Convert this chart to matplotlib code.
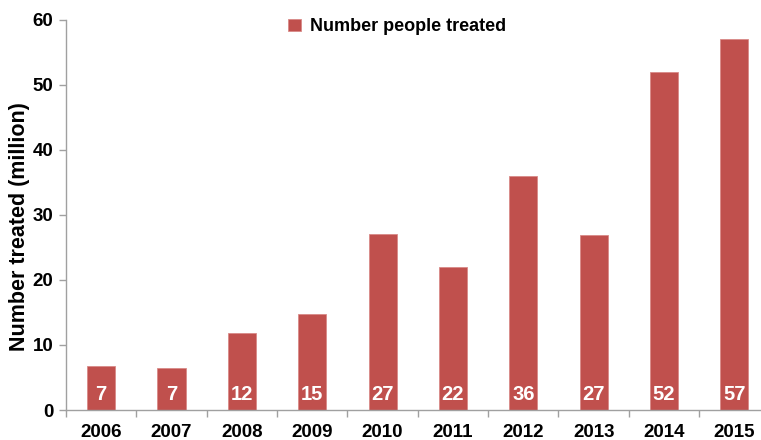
import numpy as np
import matplotlib
matplotlib.use("Agg")
from matplotlib import pyplot as plt

plt.rcParams.update({"font.family": "Liberation Sans", "font.weight": "bold"})

years = ["2006", "2007", "2008", "2009", "2010", "2011", "2012", "2013", "2014", "2015"]
treated = [6.7, 6.5, 11.8, 14.7, 27.0, 22.0, 35.9, 26.9, 52.0, 57.0]
bar_labels = ["7", "7", "12", "15", "27", "22", "36", "27", "52", "57"]

fig = plt.figure(figsize=(7.61, 4.40), dpi=100)
ax = fig.add_axes([66 / 761, 30 / 440, (769.5 - 66) / 761, (410 - 19.5) / 440])

x = np.arange(len(years))
bars = ax.bar(x, treated, width=0.4, color="#C0504D", edgecolor="#D98A88", linewidth=0.6,
              label="Number people treated")

for xi, lab in zip(x, bar_labels):
    ax.text(xi, 2.4, lab, ha="center", va="center", color="white",
            fontsize=14.5, fontweight="bold")

ax.set_xlim(-0.5, len(years) - 0.5)
ax.set_ylim(0, 60)
ax.set_yticks([0, 10, 20, 30, 40, 50, 60])
ax.set_xticks(x)
ax.set_xticklabels(years)
ax.set_xticks(np.arange(len(years) + 1) - 0.5, minor=True)
ax.tick_params(axis="x", which="major", length=0, pad=10, labelsize=13.5)
ax.tick_params(axis="x", which="minor", length=5, color="#A0A0A0", width=1)
ax.tick_params(axis="y", length=5, color="#A0A0A0", width=1, labelsize=13.5, pad=4)

for s in ["top", "right"]:
    ax.spines[s].set_visible(False)
for s in ["left", "bottom"]:
    ax.spines[s].set_color("#A0A0A0")
    ax.spines[s].set_linewidth(1)

ax.set_ylabel("Number treated (million)", fontsize=15.5, fontweight="bold")
ax.yaxis.set_label_coords(-36 / 703.5, 0.47)

ax.legend(loc="upper center", bbox_to_anchor=(0.471, 1.045), frameon=False,
          fontsize=13, handlelength=0.7, handleheight=0.7, handletextpad=0.5)

fig.savefig("out.png", dpi=100)
